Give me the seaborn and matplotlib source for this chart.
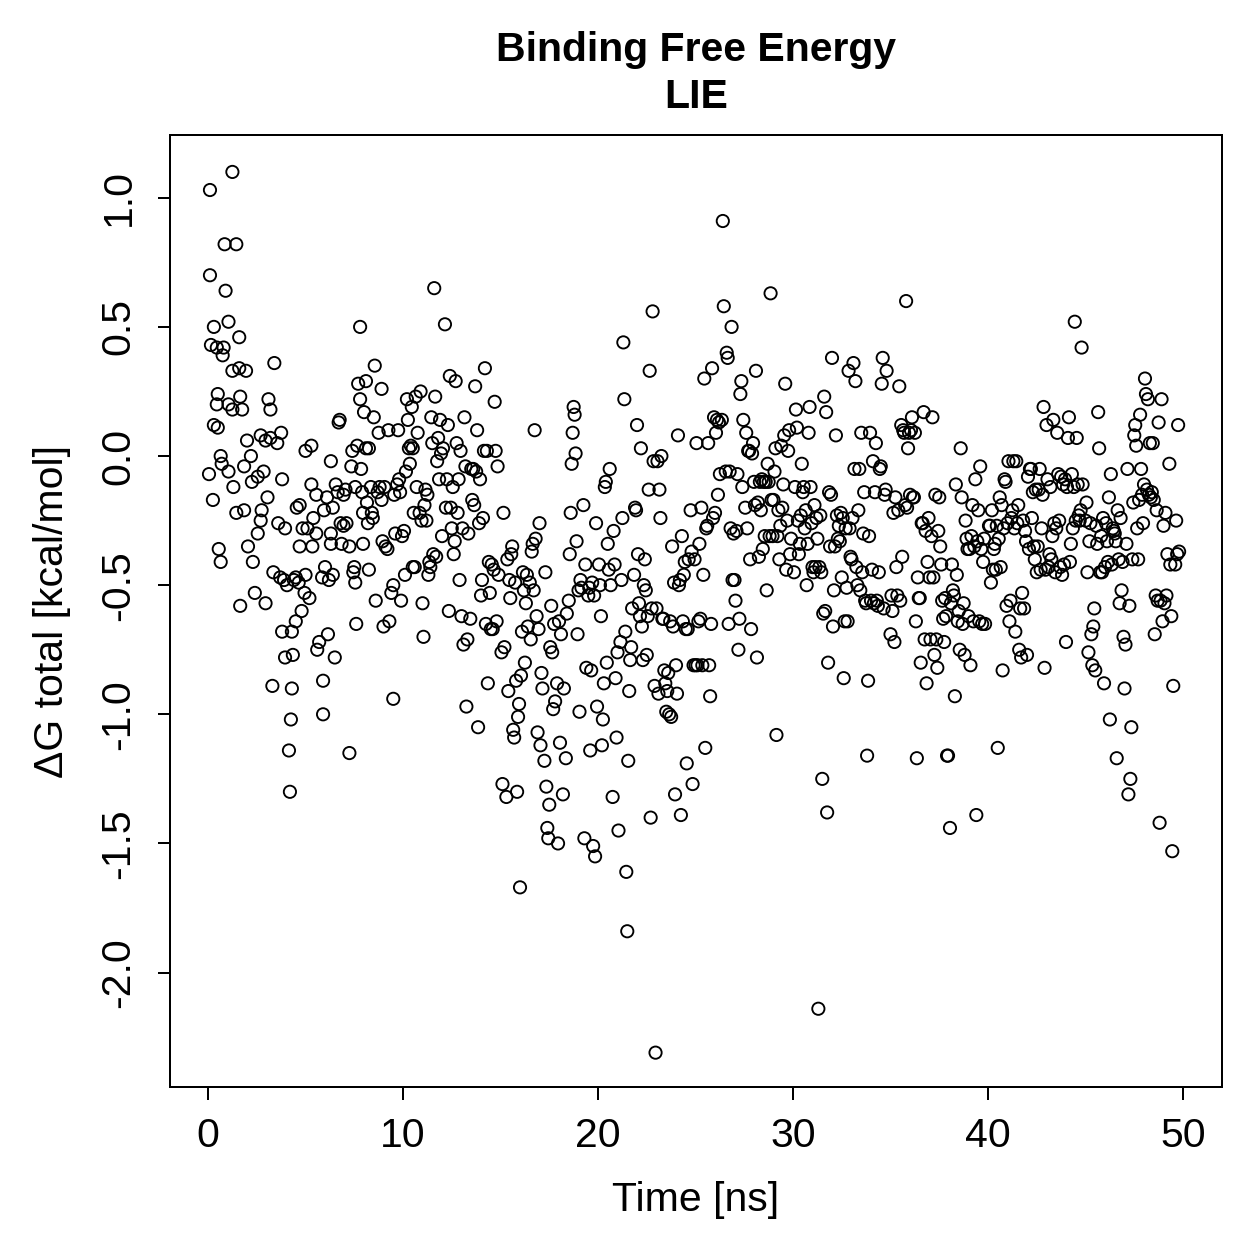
import matplotlib
matplotlib.use("Agg")
import numpy as np
import pandas as pd
import matplotlib.pyplot as plt
import seaborn as sns

# values, in 5 ns blocks
time_00 = [0.1, 0.1, 0.15, 0.3, 0.45, 0.3, 0.25, 0.05, 0.45, 0.5, 0.5, 0.65, 0.55, 0.65, 0.7,
           0.85, 0.9, 0.8, 0.75, 1.05, 1.05, 1.25, 1.45, 1.25, 1.25, 1.05, 1.3, 1.45, 1.6, 1.6,
           1.65, 1.65, 1.75, 1.95, 1.85, 1.85, 2.0, 2.05, 2.2, 2.25, 2.3, 2.4, 2.55, 2.55, 2.7,
           2.75, 2.7, 2.85, 2.95, 3.05, 2.95, 3.2, 3.1, 3.2, 3.3, 3.35, 3.4, 3.55, 3.6, 3.7,
           3.75, 3.8, 3.8, 3.95, 3.9, 3.95, 4.05, 4.15, 4.2, 4.25, 4.3, 4.3, 4.35, 4.4, 4.5,
           4.55, 4.5, 4.7, 4.8, 4.85, 4.7, 4.65, 4.95]
dg_00 = [1.03, 0.70, 0.43, 0.50, 0.42, 0.12, -0.17, -0.07, 0.20, 0.24, 0.11, 0.0, -0.36, -0.41, -0.03,
         0.82, 0.64, 0.42, 0.39, 0.52, 0.20, 1.10, 0.82, 0.33, 0.18, -0.06, -0.12, -0.22, 0.46, 0.34,
         0.23, -0.58, 0.18, 0.33, -0.04, -0.21, 0.06, -0.35, 0.0, -0.10, -0.41, -0.53, -0.30, -0.08, -0.25,
         -0.21, 0.08, -0.06, 0.06, -0.16, -0.57, 0.18, 0.22, 0.07, -0.89, -0.45, 0.36, 0.05, -0.26, -0.47,
         0.09, -0.09, -0.68, -0.78, -0.48, -0.28, -0.50, -1.14, -1.30, -1.02, -0.90, -0.68, -0.77, -0.48, -0.64,
         -0.20, -0.47, -0.35, -0.60, -0.28, -0.19, -0.49, -0.53]

time_05 = [5.0, 5.1, 5.0, 5.2, 5.3, 5.3, 5.4, 5.35, 5.55, 5.55, 5.6, 5.7, 5.85, 5.9, 5.9,
           5.95, 6.0, 6.1, 6.15, 6.2, 6.3, 6.3, 6.3, 6.4, 6.4, 6.5, 6.55, 6.65, 6.7, 6.75,
           6.8, 6.85, 6.95, 6.95, 7.05, 7.1, 7.25, 7.25, 7.35, 7.4, 7.45, 7.5, 7.55, 7.55, 7.6,
           7.65, 7.7, 7.8, 7.8, 7.85, 7.9, 7.95, 7.95, 8.0, 8.1, 8.1, 8.15, 8.2, 8.25, 8.25,
           8.35, 8.4, 8.45, 8.5, 8.55, 8.6, 8.7, 8.75, 8.8, 8.9, 8.9, 8.95, 9.0, 9.05, 9.1,
           9.2, 9.25, 9.3, 9.4, 9.5, 9.5, 9.55, 9.6, 9.7, 9.75, 9.8, 9.85, 9.9, 9.95]
dg_05 = [0.02, -0.28, -0.46, -0.55, -0.11, 0.04, -0.24, -0.35, -0.15, -0.30, -0.75, -0.72, -0.47, -0.87, -1.0,
         -0.21, -0.43, -0.16, -0.69, -0.48, -0.02, -0.30, -0.34, -0.20, -0.46, -0.78, -0.11, -0.14, 0.13, 0.14,
         -0.26, -0.34, -0.27, -0.15, -0.13, -0.26, -1.15, -0.35, -0.04, 0.02, -0.45, -0.43, -0.12, -0.49, -0.65,
         0.04, 0.28, 0.50, 0.22, -0.05, -0.14, -0.22, -0.34, 0.17, 0.29, 0.03, -0.18, -0.26, -0.44, 0.03,
         -0.12, -0.22, -0.24, 0.15, 0.35, -0.56, -0.14, 0.09, -0.12, 0.26, -0.17, -0.33, -0.66, -0.12, -0.35,
         -0.36, 0.10, -0.64, -0.53, -0.94, -0.50, -0.15, -0.30, -0.11, 0.10, -0.09, -0.14, -0.56, -0.31]

time_10 = [10.05, 10.1, 10.15, 10.2, 10.25, 10.3, 10.35, 10.4, 10.45, 10.5, 10.5, 10.55, 10.6, 10.65, 10.7,
           10.75, 10.85, 10.9, 10.95, 11.0, 11.05, 11.1, 11.15, 11.2, 11.25, 11.3, 11.35, 11.4, 11.45, 11.5,
           11.55, 11.6, 11.65, 11.7, 11.75, 11.8, 11.85, 11.9, 11.95, 12.0, 12.05, 12.15, 12.2, 12.25, 12.3,
           12.35, 12.4, 12.45, 12.5, 12.55, 12.6, 12.65, 12.7, 12.75, 12.8, 12.85, 12.9, 12.95, 13.0, 13.05,
           13.1, 13.15, 13.2, 13.25, 13.3, 13.35, 13.45, 13.5, 13.55, 13.6, 13.65, 13.7, 13.75, 13.8, 13.85,
           13.9, 13.95, 14.0, 14.05, 14.1, 14.15, 14.2, 14.25, 14.3, 14.35, 14.4, 14.45, 14.5, 14.55, 14.6,
           14.65, 14.7, 14.75, 14.8, 14.85, 14.9]
dg_10 = [-0.29, -0.46, -0.06, 0.22, 0.14, 0.03, -0.03, 0.04, 0.19, 0.03, -0.43, -0.22, -0.43, 0.23, -0.12,
         0.09, -0.22, 0.25, -0.25, -0.57, -0.70, -0.19, -0.13, -0.25, -0.15, -0.46, -0.41, -0.43, 0.15, 0.05,
         -0.38, 0.65, 0.23, -0.39, -0.02, 0.07, -0.09, 0.14, 0.01, -0.31, 0.03, 0.51, -0.20, -0.09, 0.12,
         -0.60, 0.31, -0.20, -0.28, -0.12, -0.38, -0.33, 0.29, 0.05, -0.22, -0.09, -0.48, 0.02, -0.62, -0.28,
         -0.73, 0.15, -0.04, -0.97, -0.71, -0.30, -0.63, -0.05, -0.17, -0.05, -0.19, 0.27, -0.06, 0.10, -1.05,
         -0.26, -0.09, -0.54, -0.48, -0.24, 0.02, 0.34, -0.65, 0.02, -0.88, -0.41, -0.53, -0.67, -0.42, -0.67,
         -0.44, 0.21, 0.02, -0.64, -0.04, -0.46]

time_15 = [15.05, 15.1, 15.15, 15.2, 15.3, 15.35, 15.4, 15.45, 15.5, 15.55, 15.6, 15.65, 15.7, 15.75, 15.8,
           15.85, 15.9, 15.95, 16.0, 16.05, 16.1, 16.15, 16.2, 16.25, 16.3, 16.35, 16.4, 16.5, 16.55, 16.6,
           16.65, 16.7, 16.75, 16.8, 16.85, 16.9, 16.95, 17.0, 17.05, 17.1, 17.15, 17.25, 17.3, 17.35, 17.4,
           17.45, 17.5, 17.55, 17.6, 17.65, 17.7, 17.75, 17.8, 17.9, 17.95, 18.0, 18.05, 18.1, 18.2, 18.25,
           18.35, 18.4, 18.5, 18.55, 18.6, 18.65, 18.7, 18.75, 18.8, 18.85, 18.9, 18.95, 19.0, 19.05, 19.1,
           19.15, 19.25, 19.3, 19.35, 19.4, 19.5, 19.55, 19.6, 19.65, 19.7, 19.75, 19.8, 19.85, 19.9, 19.95]
dg_15 = [-0.76, -1.27, -0.22, -0.74, -1.32, -0.40, -0.91, -0.48, -0.55, -0.38, -0.35, -1.06, -1.09, -0.49, -0.87,
         -1.30, -1.01, -0.96, -1.67, -0.85, -0.68, -0.45, -0.52, -0.80, -0.57, -0.46, -0.66, -0.49, -0.71, -0.37,
         -0.34, -0.52, 0.10, -0.32, -0.62, -1.07, -0.67, -0.26, -1.12, -0.84, -0.90, -1.18, -0.45, -1.28, -1.44,
         -1.48, -1.35, -0.74, -0.58, -0.76, -0.98, -0.65, -0.95, -0.88, -1.50, -0.64, -1.11, -0.69, -1.31, -0.90,
         -1.17, -0.61, -0.56, -0.38, -0.22, -0.03, 0.09, 0.19, 0.16, 0.01, -0.33, -0.69, -0.52, -0.99, -0.48,
         -0.51, -0.19, -1.48, -0.42, -0.82, -0.54, -0.51, -1.14, -0.83, -0.49, -1.51, -0.54, -1.55, -0.26, -0.97]

time_20 = [20.05, 20.1, 20.15, 20.2, 20.25, 20.3, 20.35, 20.4, 20.45, 20.5, 20.55, 20.6, 20.65,
           20.75, 20.8, 20.85, 20.9, 20.95, 21.0, 21.05,
           21.15, 21.2, 21.25, 21.3, 21.35, 21.4, 21.45, 21.5, 21.55, 21.6, 21.65, 21.7, 21.75,
           21.85, 21.9, 21.95, 22.0, 22.05, 22.1, 22.15, 22.2, 22.25, 22.3, 22.35, 22.4, 22.45, 22.5,
           22.55, 22.6, 22.65, 22.7, 22.75, 22.8, 22.85, 22.9, 22.95, 23.0, 23.05, 23.1, 23.15, 23.2,
           23.25, 23.3, 23.35, 23.4, 23.45, 23.5, 23.55, 23.6, 23.65, 23.7, 23.75, 23.8, 23.85, 23.9,
           23.95, 24.0, 24.05, 24.1, 24.15, 24.2, 24.25, 24.3, 24.35, 24.4, 24.45, 24.5, 24.55, 24.6, 24.65,
           24.75, 24.8, 24.85, 24.9, 24.95]
dg_20 = [-0.42, -0.50, -0.62, -1.12, -1.02, -0.88, -0.12, -0.10, -0.80, -0.34, -0.44, -0.05, -0.50,
         -1.32, -0.29, -0.42, -0.86, -1.09, -0.76, -1.45,
         -0.72, -0.48, -0.24, 0.44, 0.22, -0.68, -1.61, -1.84, -1.18, -0.91, -0.79, -0.74, -0.59,
         -0.46, -0.20, -0.21, 0.12, -0.38, -0.57, -0.62, 0.03, -0.66, -0.79, -0.50, -0.40, -0.52, -0.77,
         -0.62, -0.13, 0.33, -1.40, -0.59, 0.56, -0.02, -0.89, -2.31, -0.59, -0.02, -0.92, -0.13, -0.24,
         0.0, -0.63, -0.63, -0.83, -0.88, -0.99, -0.91, -0.84, -1.0, -0.64, -1.01, -0.35, -0.66, -0.49,
         -1.31, -0.81, -0.92, 0.08, -0.50, -0.48, -1.39, -0.31, -0.64, -0.46, -0.41, -0.67, -1.19, -0.67, -0.40,
         -0.21, -0.37, -1.27, -0.81, -0.40]

time_25 = [25.0, 25.05, 25.1, 25.15, 25.2, 25.25, 25.3, 25.35, 25.4, 25.45, 25.5, 25.55, 25.6, 25.65, 25.7,
           25.75, 25.8, 25.85, 25.9, 25.95, 26.0, 26.05, 26.1, 26.15, 26.2, 26.25,
           26.35, 26.4, 26.45,
           26.55, 26.6, 26.65, 26.7, 26.75, 26.8, 26.85, 26.9, 26.95, 27.0, 27.05, 27.1, 27.15, 27.2, 27.25,
           27.3, 27.35, 27.4, 27.45,
           27.55, 27.6, 27.65, 27.7, 27.75, 27.8, 27.85, 27.9, 27.95, 28.0, 28.05, 28.1, 28.15, 28.2, 28.25,
           28.3, 28.35, 28.4, 28.45, 28.5, 28.55, 28.6, 28.65, 28.7, 28.75, 28.8, 28.85, 28.9, 28.95, 29.0,
           29.05, 29.1, 29.15, 29.2, 29.25, 29.3, 29.35, 29.4, 29.45, 29.5, 29.55, 29.6, 29.65, 29.7, 29.75,
           29.8, 29.85, 29.9]
dg_25 = [-0.81, 0.05, -0.81, -0.64, -0.34, -0.63, -0.20, -0.81, -0.46, 0.30, -1.13, -0.28, -0.27, 0.05, -0.81,
         -0.93, -0.65, 0.34, -0.24, 0.15, -0.22, 0.09, 0.14, -0.15, 0.13, -0.07,
         0.14, 0.91, 0.58,
         -0.06, 0.40, 0.38, -0.65, -0.06, -0.28, 0.50, -0.48, -0.30, -0.48, -0.56, -0.29, -0.07, -0.75, -0.63,
         0.24, 0.29, -0.12, 0.14,
         -0.20, 0.09, -0.28, 0.02, 0.02, -0.40, -0.67, 0.01, 0.05, -0.10, -0.19, 0.33, -0.78, -0.18, -0.39,
         -0.10, -0.21, -0.09, -0.36, -0.10, -0.31, -0.10, -0.52, -0.03, -0.10, -0.31, 0.63, -0.17, -0.31, -0.17,
         -0.06, 0.03, -1.08, -0.31, -0.21, -0.40, -0.27, 0.04, -0.20, -0.11, 0.08, 0.28, -0.44, -0.25, 0.02,
         0.10, -0.38, -0.32]

time_30 = [30.05, 30.1, 30.15, 30.2, 30.25, 30.3, 30.35, 30.4, 30.45, 30.5, 30.55, 30.6, 30.65, 30.7, 30.75,
           30.8, 30.85, 30.9, 30.95, 31.0, 31.05, 31.1, 31.15, 31.2, 31.25, 31.3, 31.35, 31.4, 31.45, 31.5,
           31.55, 31.6, 31.65, 31.7, 31.75, 31.8, 31.85, 31.9, 31.95, 32.0, 32.05, 32.1, 32.15, 32.2, 32.25,
           32.3, 32.35, 32.4, 32.45, 32.5, 32.55, 32.6, 32.65, 32.7, 32.75, 32.8, 32.85, 32.9, 32.95, 33.0,
           33.05, 33.1, 33.15, 33.2, 33.25, 33.3, 33.35, 33.4, 33.45, 33.5, 33.55, 33.6, 33.65, 33.7, 33.75,
           33.8, 33.85, 33.9, 33.95, 34.0, 34.05, 34.1, 34.15, 34.2, 34.25, 34.3, 34.35, 34.4, 34.45, 34.5,
           34.55, 34.6, 34.65, 34.7, 34.75, 34.8]
dg_30 = [-0.45, -0.12, 0.18, 0.11, -0.25, -0.38, -0.34, -0.23, -0.03, -0.14, -0.12, -0.28, -0.21, -0.50, -0.34,
         0.09, 0.19, -0.12, -0.26, -0.43, -0.45, -0.19, -0.43, -0.24, -0.32, -2.14, -0.43, -0.23, -0.45, -1.25,
         -0.61, 0.23, -0.60, 0.17, -1.38, -0.80, -0.14, -0.35, -0.15, 0.38, -0.66, -0.52, -0.35, 0.08, -0.23,
         -0.32, -0.27, -0.33, -0.22, -0.47, -0.24, -0.86, -0.64, -0.28, -0.51, -0.64, 0.33, -0.28, -0.39, -0.40,
         -0.24, 0.36, -0.05, 0.29, -0.43, -0.50, -0.21, -0.05, -0.52, 0.09, -0.45, -0.30, -0.14, -0.56, -0.57,
         -1.16, -0.87, -0.31, 0.09, -0.56, -0.44, -0.02, -0.57, -0.14, 0.05, -0.56, -0.58, -0.45, -0.05, -0.04,
         0.28, 0.38, -0.59, -0.15, -0.13, 0.33]

time_35 = [35.0, 35.05, 35.1, 35.15, 35.2, 35.25, 35.3, 35.35, 35.4, 35.45, 35.5, 35.55, 35.6, 35.65, 35.7,
           35.75, 35.8, 35.85, 35.9, 35.95, 36.0, 36.05, 36.1, 36.15, 36.2, 36.25, 36.3, 36.35, 36.4, 36.45,
           36.5, 36.55, 36.6, 36.65, 36.7, 36.75, 36.8, 36.85, 36.9, 36.95, 37.0, 37.05, 37.1, 37.15, 37.2,
           37.25, 37.3, 37.35, 37.4, 37.45, 37.5, 37.55, 37.6, 37.65, 37.7, 37.75, 37.8, 37.85, 37.9, 37.95,
           38.05, 38.1, 38.15, 38.2, 38.25, 38.3, 38.35, 38.4, 38.45, 38.5, 38.55, 38.6, 38.65, 38.7, 38.75,
           38.8, 38.85, 38.9, 38.95, 39.0, 39.05, 39.1, 39.15, 39.2, 39.25, 39.3, 39.35, 39.4, 39.45, 39.5,
           39.55, 39.6, 39.65, 39.7, 39.75, 39.8, 39.85]
dg_35 = [-0.69, -0.54, -0.60, -0.22, -0.72, -0.16, -0.43, -0.54, -0.21, 0.27, -0.56, 0.12, -0.39, 0.10, 0.09,
         -0.19, 0.60, -0.20, 0.03, 0.09, -0.15, 0.10, 0.15, -0.16, -0.16, 0.09, -0.64, -1.17, -0.47, -0.55,
         -0.55, -0.80, -0.26, -0.26, 0.17, -0.71, -0.29, -0.88, -0.41, -0.24, -0.47, -0.71, -0.31, 0.15, -0.47,
         -0.77, -0.15, -0.71, -0.82, -0.29, -0.16, -0.35, -0.42, -0.56, -0.63, -0.72, -0.55, -0.62, -1.16, -1.16,
         -1.44, -0.57, -0.42, -0.52, -0.54, -0.93, -0.11, -0.46, -0.64, -0.60, -0.75, 0.03, -0.16, -0.65, -0.57,
         -0.77, -0.25, -0.32, -0.36, -0.62, -0.36, -0.81, -0.31, -0.19, -0.64, -0.35, -0.09, -1.39, -0.33, -0.21,
         -0.64, -0.04, -0.36, -0.65, -0.41, -0.32, -0.65]

time_40 = [40.05, 40.1, 40.15, 40.2, 40.25, 40.3, 40.35, 40.4, 40.45, 40.5, 40.55, 40.6, 40.65, 40.7, 40.75,
           40.8, 40.85, 40.9, 40.95, 41.0, 41.05, 41.1, 41.15, 41.2, 41.25, 41.3, 41.35, 41.4, 41.45, 41.5,
           41.55, 41.6, 41.65, 41.7, 41.75, 41.8, 41.85, 41.9, 41.95, 42.0, 42.05, 42.1, 42.15, 42.2, 42.25,
           42.3, 42.35, 42.4, 42.45, 42.5, 42.55, 42.6, 42.65, 42.7, 42.75, 42.8, 42.85, 42.9, 42.95, 43.0,
           43.05, 43.1, 43.15, 43.2, 43.25, 43.3, 43.35, 43.4, 43.45, 43.5, 43.55, 43.6, 43.65, 43.7, 43.75,
           43.8, 43.85, 43.9, 43.95, 44.0, 44.05, 44.1, 44.15, 44.2, 44.25, 44.3, 44.35, 44.4, 44.45, 44.5,
           44.55, 44.6, 44.65, 44.7, 44.75, 44.8, 44.85]
dg_40 = [-0.27, -0.27, -0.49, -0.21, -0.44, -0.36, -0.34, -0.44, -0.27, -1.13, -0.32, -0.16, -0.43, -0.19, -0.83,
         -0.28, -0.09, -0.10, -0.58, -0.26, -0.02, -0.64, -0.56, -0.24, -0.21, -0.02, -0.28, -0.68, -0.02, -0.26,
         -0.19, -0.75, -0.59, -0.78, -0.53, -0.25, -0.59, -0.29, -0.33, -0.77, -0.08, -0.36, -0.05, -0.05, -0.24,
         -0.14, -0.35, -0.40, -0.13, -0.45, -0.35, -0.13, -0.05, -0.44, -0.28, -0.15, 0.19, -0.82, -0.44, 0.12,
         -0.09, -0.43, -0.38, -0.12, -0.40, -0.31, 0.14, -0.26, -0.45, -0.28, 0.09, -0.07, -0.25, -0.43, -0.08,
         -0.46, -0.11, -0.42, -0.09, -0.72, -0.12, 0.07, 0.15, -0.41, -0.34, -0.07, -0.28, -0.12, 0.52, -0.25,
         0.07, -0.11, -0.23, -0.25, -0.21, 0.42, -0.11]

time_45 = [45.0, 45.05, 45.1, 45.15, 45.2, 45.25, 45.3, 45.35, 45.4, 45.45, 45.5, 45.55, 45.6, 45.65, 45.7,
           45.75, 45.8, 45.85, 45.9, 45.95, 46.0, 46.05, 46.1, 46.15, 46.2, 46.25, 46.3, 46.35, 46.4, 46.45,
           46.5, 46.55, 46.6, 46.65, 46.7, 46.75, 46.8, 46.85, 46.9, 46.95, 47.0, 47.05, 47.1, 47.15, 47.2,
           47.25, 47.3, 47.35, 47.4, 47.45, 47.5, 47.55, 47.6, 47.65, 47.7, 47.75, 47.8, 47.85, 47.9, 47.95,
           48.0, 48.05, 48.1, 48.15, 48.2, 48.25, 48.3, 48.35, 48.4, 48.45, 48.5, 48.55, 48.6, 48.65, 48.7,
           48.75, 48.8, 48.85, 48.9, 48.95, 49.0, 49.05, 49.1, 49.15, 49.2,
           49.3, 49.35, 49.4, 49.45, 49.5, 49.6, 49.65, 49.7, 49.75, 49.8]
dg_45 = [-0.25, -0.18, -0.45, -0.76, -0.33, -0.26, -0.69, -0.81, -0.66, -0.59, -0.83, -0.27, -0.34, 0.17, 0.03,
         -0.45, -0.31, -0.45, -0.24, -0.88, -0.43, -0.26, -0.33, -0.41, -0.16, -1.02, -0.07, -0.42, -0.28, -0.29,
         -0.30, -0.33, -1.17, -0.21, -0.40, -0.57, -0.24, -0.52, -0.41, -0.70, -0.90, -0.73, -0.34, -0.05, -1.31,
         -0.58, -1.25, -1.05, -0.40, -0.18, 0.08, 0.12, 0.04, -0.28, -0.40, -0.17, 0.16, -0.05, -0.15, -0.26,
         -0.11, 0.30, 0.24, -0.13, 0.22, -0.15, 0.05, -0.16, -0.14, 0.05, -0.17, -0.69, -0.54, -0.21, -0.56,
         0.13, -1.42, -0.56, 0.22, -0.64, -0.27, -0.57, -0.22, -0.54, -0.38,
         -0.03, -0.42, -0.62, -1.53, -0.89, -0.42, -0.25, -0.38, 0.12, -0.37]

blocks = [(time_00, dg_00), (time_05, dg_05), (time_10, dg_10), (time_15, dg_15),
          (time_20, dg_20), (time_25, dg_25), (time_30, dg_30), (time_35, dg_35),
          (time_40, dg_40), (time_45, dg_45)]
df = pd.concat([pd.DataFrame({"time": t, "dg": g}) for t, g in blocks], ignore_index=True)

sns.set_style("ticks")
plt.rcParams['font.family'] = ['Liberation Sans', 'DejaVu Sans']
plt.rcParams.update({"text.color": "black", "axes.labelcolor": "black",
                     "xtick.color": "black", "ytick.color": "black",
                     "axes.edgecolor": "black"})

W = 1259
fig = plt.figure(figsize=(W / 180, W / 180), dpi=180)
ax = fig.add_axes([170 / W, 1 - 1087 / W, (1222 - 170) / W, (1087 - 135) / W])

sns.scatterplot(data=df, x="time", y="dg", ax=ax, marker="o", s=24,
                facecolor="none", edgecolor="black", linewidth=0.75)

ax.set_xlim(-1.95, 52.0)
ax.set_ylim(-2.443, 1.243)
ax.set_xticks([0, 10, 20, 30, 40, 50])
ax.set_xticklabels(["0", "10", "20", "30", "40", "50"])
yt = [-2.0, -1.5, -1.0, -0.5, 0.0, 0.5, 1.0]
ax.set_yticks(yt)
ax.set_yticklabels([f"{v:.1f}" for v in yt], rotation=90, va="center")
ax.tick_params(direction="out", length=5, width=0.8, labelsize=16.4,
               color="black", labelcolor="black")
ax.tick_params(axis="x", pad=7)
ax.tick_params(axis="y", pad=8)
for sp in ax.spines.values():
    sp.set_linewidth(0.8)
    sp.set_color("black")
ax.set_xlabel("")
ax.set_ylabel("")

fig.text(696 / W, 1 - 61 / W, "Binding Free Energy", ha="center", va="baseline",
         fontsize=16.4, fontweight="bold", color="black")
fig.text(696 / W, 1 - 108 / W, "LIE", ha="center", va="baseline",
         fontsize=16.4, fontweight="bold", color="black")
fig.text(696 / W, 1 - 1200 / W, "Time [ns]", ha="center", va="center",
         fontsize=16.4, color="black")
fig.text(52 / W, 1 - 611 / W, "ΔG total [kcal/mol]", ha="center", va="center",
         rotation=90, fontsize=16.4, color="black")

fig.savefig("out.png", dpi=180, facecolor="white")
